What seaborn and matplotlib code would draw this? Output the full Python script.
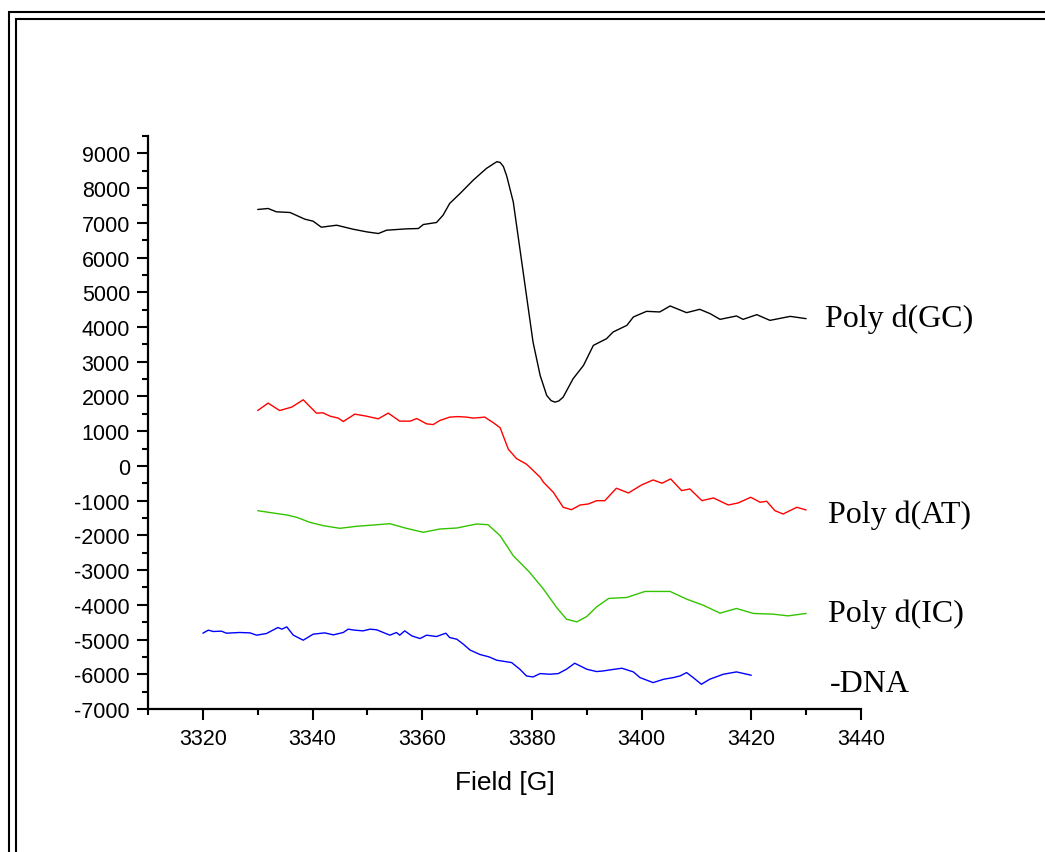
import matplotlib
matplotlib.use("Agg")
import matplotlib.pyplot as plt
import matplotlib.patches as mpatches
from matplotlib.ticker import MultipleLocator
import seaborn as sns

# ---- data ----
gc_field = [3330, 3331.9, 3333.4, 3335.9, 3338.6, 3340.1, 3341.6, 3344.4, 3347.4, 3349.9,
            3352, 3353.5, 3357.1, 3359.3, 3360.2, 3362.6, 3363.8, 3365, 3366.9, 3369.3,
            3371.7, 3373.0, 3373.6, 3374.2, 3374.8, 3375.4, 3376.6, 3377.8, 3379, 3380.2,
            3381.5, 3382.7, 3383.5, 3384.2, 3384.9, 3385.7, 3387.5, 3389.4, 3391.2, 3393.6,
            3394.8, 3397.3, 3398.5, 3400.9, 3403.3, 3405.2, 3408.2, 3410.6, 3412.5, 3414.3,
            3417.3, 3418.5, 3421, 3423.4, 3427.1, 3430]
gc_signal = [7384, 7413, 7317, 7297, 7105, 7047, 6874, 6931, 6816, 6739,
             6692, 6787, 6826, 6836, 6951, 7009, 7220, 7557, 7845, 8229,
             8566, 8700, 8760, 8740, 8620, 8350, 7600, 6259, 4912, 3568,
             2605, 2028, 1880, 1837, 1870, 1981, 2509, 2893, 3470, 3663,
             3856, 4046, 4289, 4451, 4433, 4606, 4413, 4509, 4384, 4220,
             4318, 4220, 4355, 4191, 4306, 4240]

at_field = [3330, 3331.9, 3334, 3336.2, 3338.3, 3340.7, 3341.9, 3343.2, 3344.7, 3345.6,
            3347.7, 3349.8, 3352, 3353.8, 3355.9, 3357.8, 3359, 3360.8, 3362, 3363.2,
            3365, 3366.5, 3368.1, 3369.3, 3371.4, 3373, 3374.2, 3375.7, 3377.2, 3379,
            3379.6, 3381.5, 3382.1, 3383.9, 3385.7, 3387.2, 3388.8, 3390.3, 3391.8, 3393.3,
            3395.4, 3397.6, 3400, 3402.1, 3403.7, 3405.3, 3407.3, 3408.8, 3411, 3413.1,
            3415.8, 3417.6, 3419.9, 3421.6, 3422.8, 3424.3, 3425.8, 3428.3, 3430]
at_signal = [1595, 1808, 1595, 1693, 1904, 1520, 1529, 1433, 1376, 1278,
             1491, 1433, 1356, 1520, 1289, 1289, 1364, 1211, 1191, 1307,
             1405, 1420, 1405, 1376, 1405, 1240, 1100, 480, 210, 50,
             -37, -326, -470, -759, -1191, -1260, -1125, -1096, -1001, -1001,
             -643, -779, -548, -404, -499, -375, -712, -663, -1001, -923,
             -1125, -1067, -903, -1047, -1018, -1289, -1385, -1191, -1269]

ic_field = [3330, 3332.8, 3335.3, 3337.1, 3339.5, 3342, 3345, 3348, 3351.1, 3354.1,
            3357.1, 3360.2, 3363.2, 3366.3, 3369.9, 3372, 3374.2, 3376.6, 3379.6, 3382.1,
            3384.5, 3386.3, 3388.2, 3390, 3391.8, 3394, 3397.3, 3400.6, 3405.2, 3408.2,
            3411.2, 3414.3, 3417.3, 3420.4, 3424, 3426.7, 3430]
ic_signal = [-1289, -1356, -1413, -1480, -1624, -1722, -1797, -1739, -1702, -1664,
             -1797, -1912, -1817, -1788, -1673, -1693, -2010, -2587, -3067, -3548,
             -4076, -4413, -4491, -4336, -4058, -3816, -3788, -3615, -3615, -3836,
             -4009, -4240, -4105, -4249, -4269, -4318, -4249]

dna_field = [3320, 3321, 3321.9, 3323.4, 3324.3, 3326.7, 3328.6, 3329.8, 3331.6, 3333.7,
             3334.4, 3335.3, 3336.5, 3338.3, 3340.1, 3342.2, 3343.8, 3345.6, 3346.5, 3347.7,
             3349.2, 3350.5, 3351.7, 3352.9, 3354.1, 3355.3, 3355.9, 3356.8, 3358.1, 3359.6,
             3360.8, 3362.6, 3364.3, 3365, 3366.3, 3367.5, 3368.7, 3370.5, 3372.2, 3373.6,
             3376.3, 3377.8, 3379, 3380.2, 3381.5, 3383.3, 3384.8, 3386.3, 3387.8, 3390,
             3391.8, 3393, 3394.2, 3396.4, 3398.5, 3399.7, 3402.1, 3404, 3405.8, 3407,
             3408.2, 3409.4, 3410.9, 3412.4, 3414.9, 3417.3, 3420]
dna_signal = [-4817, -4730, -4768, -4759, -4817, -4797, -4808, -4874, -4826, -4653,
              -4701, -4635, -4874, -5019, -4846, -4808, -4865, -4797, -4701, -4730,
              -4750, -4701, -4720, -4797, -4874, -4797, -4874, -4750, -4894, -4971,
              -4874, -4913, -4817, -4942, -4990, -5134, -5300, -5430, -5500, -5596,
              -5663, -5855, -6048, -6077, -5980, -5999, -5980, -5855, -5682, -5855,
              -5922, -5904, -5875, -5826, -5932, -6095, -6240, -6144, -6095, -6048,
              -5951, -6095, -6288, -6144, -5999, -5932, -6028]

series_names = ["Poly d(GC)", "Poly d(AT)", "Poly d(IC)", "-DNA"]
label_field = [3433.5, 3434.0, 3434.0, 3434.3]
label_signal = [4038, -1607, -4480, -6490]

x_label = "Field [G]"
x_ticks = [3320, 3340, 3360, 3380, 3400, 3420, 3440]
y_ticks = list(range(-7000, 9001, 1000))

# ---- figure ----
sns.set_style("ticks")
plt.rcParams['font.family'] = ['Liberation Sans', 'DejaVu Sans']
plt.rcParams['axes.unicode_minus'] = False

fig = plt.figure(figsize=(10.45, 8.53), dpi=100)
fig.patch.set_facecolor("white")
ax = fig.add_axes([148 / 1045, 1 - 710 / 853, (861 - 148) / 1045, (710 - 137) / 853])

colors = ["#000000", "#ff0000", "#33c400", "#0000ff"]
lw = 1.0
for fx, sy, c in [(gc_field, gc_signal, colors[0]), (at_field, at_signal, colors[1]),
                  (ic_field, ic_signal, colors[2]), (dna_field, dna_signal, colors[3])]:
    sns.lineplot(x=fx, y=sy, color=c, linewidth=lw, ax=ax, estimator=None, sort=False)

ax.set_xlim(3310, 3440)
ax.set_ylim(-7000, 9500)
ax.set_xticks(x_ticks)
ax.set_yticks(y_ticks)
ax.xaxis.set_minor_locator(MultipleLocator(10))
ax.yaxis.set_minor_locator(MultipleLocator(500))
ax.tick_params(axis='both', which='major', direction='out', length=8, width=1.5,
               labelsize=15.5, color='black', labelcolor='black')
ax.tick_params(axis='both', which='minor', direction='out', length=4.3, width=1.5, color='black')
ax.tick_params(axis='x', which='major', pad=6)
ax.tick_params(axis='y', which='major', pad=5)

for s in ['top', 'right']:
    ax.spines[s].set_visible(False)
for s in ['left', 'bottom']:
    ax.spines[s].set_linewidth(1.6)
    ax.spines[s].set_color('black')

ax.set_xlabel(x_label, fontsize=19, color='black')
ax.xaxis.label.set_va('center')
ax.xaxis.set_label_coords(0.5, (710 - 783) / 573)
ax.set_ylabel("")

for name, lx, ly in zip(series_names, label_field, label_signal):
    ax.text(lx, ly, name, fontsize=23, family=['Liberation Serif', 'DejaVu Serif'],
            ha='left', va='baseline', color='black', clip_on=False)

# double frame around the page
outer = mpatches.Rectangle((9 / 1045, -0.1), 1.2, 1 - 13 / 853 + 0.1, transform=fig.transFigure,
                           fill=False, edgecolor='black', linewidth=1.5)
inner = mpatches.Rectangle((15.5 / 1045, -0.1), 1.2, 1 - 19.8 / 853 + 0.1, transform=fig.transFigure,
                           fill=False, edgecolor='black', linewidth=1.5)
fig.patches.extend([outer, inner])

fig.savefig("out.png", dpi=100, facecolor="white")
